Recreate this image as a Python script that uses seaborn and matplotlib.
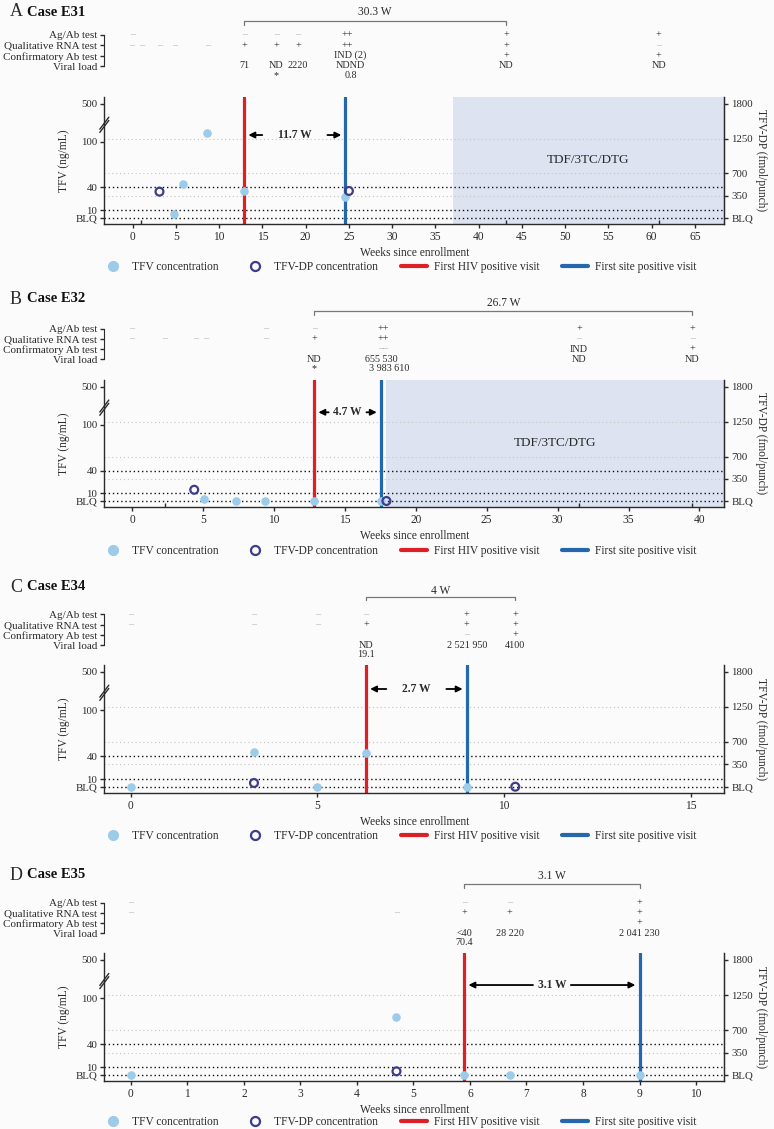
import numpy as np
import pandas as pd
import matplotlib
matplotlib.use("Agg")
import matplotlib.pyplot as plt
from matplotlib.lines import Line2D
import seaborn as sns

# ---------------- data ----------------
rows = ["Ag/Ab test", "Qualitative RNA test", "Confirmatory Ab test", "Viral load"]

# Case E31
a_tfv_week = [4.8, 5.8, 8.55, 12.9, 24.6]
a_tfv_conc = [5.3, 44.8, 197, 35.6, 26.9]
a_dp_week = [3.1, 25.0]
a_dp_conc = [412, 423]
a_agab = [(0, "–"), (12.9, "–"), (16.6, "–"), (19.1, "–"), (24.8, "++"), (43.2, "+"), (60.8, "+")]
a_rna = [(-0.1, "–"), (1.0, "–"), (3.1, "–"), (4.8, "–"), (8.7, "–"), (12.9, "+"), (16.6, "+"),
         (19.1, "+"), (24.8, "++"), (43.2, "+"), (60.8, "–")]
a_conf = [(25.2, "IND (2)"), (43.2, "+"), (60.8, "+")]
a_vl = [(12.9, "71"), (16.6, "ND"), (19.1, "2220"), (25.2, "NDND"), (43.2, "ND"), (60.8, "ND")]
a_vl2 = [(16.6, "*"), (25.2, "0.8")]
a_other_visits = [1.0, 43.2, 60.8]

# Case E32
b_tfv_week = [5.06, 7.35, 9.36, 12.84, 17.54]
b_tfv_conc = [2.2, 0, 0, 0, 0]
b_dp_week = [4.38, 17.93]
b_dp_conc = [177, 0]
b_agab = [(0, "–"), (9.4, "–"), (12.85, "–"), (17.7, "++"), (31.5, "+"), (39.5, "+")]
b_rna = [(0, "–"), (2.3, "–"), (4.45, "–"), (5.15, "–"), (9.4, "–"), (12.85, "+"), (17.7, "++"),
         (31.5, "–"), (39.5, "–")]
b_conf = [(17.7, "––"), (31.5, "IND"), (39.5, "+")]
b_vl = [(12.85, "ND"), (17.54, "655 530"), (31.5, "ND"), (39.5, "ND")]
b_vl2 = [(12.85, "*"), (18.1, "3 983 610")]
b_other_visits = [2.3, 31.5, 39.5]

# Case E34
c_tfv_week = [0, 3.3, 5.0, 6.3, 9.0]
c_tfv_conc = [0, 45.3, 0, 43.5, 0]
c_dp_week = [3.3, 10.3]
c_dp_conc = [58, 0]
c_agab = [(0, "–"), (3.3, "–"), (5.0, "–"), (6.3, "–"), (9.0, "+"), (10.3, "+")]
c_rna = [(0, "–"), (3.3, "–"), (5.0, "–"), (6.3, "+"), (9.0, "+"), (10.3, "+")]
c_conf = [(9.0, "–"), (10.3, "+")]
c_vl = [(6.3, "ND"), (9.0, "2 521 950"), (10.3, "4100")]
c_vl2 = [(6.3, "19.1")]
c_other_visits = []

# Case E35
d_tfv_week = [0, 4.7, 5.9, 6.7, 9.0]
d_tfv_conc = [0, 75.3, 0, 0, 0]
d_dp_week = [4.7]
d_dp_conc = [58]
d_agab = [(0, "–"), (5.9, "–"), (6.7, "–"), (9.0, "+")]
d_rna = [(0, "–"), (4.7, "–"), (5.9, "+"), (6.7, "+"), (9.0, "+")]
d_conf = [(9.0, "+")]
d_vl = [(5.9, "<40"), (6.7, "28 220"), (9.0, "2 041 230")]
d_vl2 = [(5.9, "70.4")]
d_other_visits = []

# first HIV positive visit, first site positive visit, bracket end, bracket label, ART start
a_events = dict(hiv=12.9, site=24.6, br_end=43.2, br_label="30.3 W", gap="11.7 W", art=37.0)
b_events = dict(hiv=12.84, site=17.54, br_end=39.5, br_label="26.7 W", gap="4.7 W", art=17.93)
c_events = dict(hiv=6.3, site=9.0, br_end=10.3, br_label="4 W", gap="2.7 W", art=None)
d_events = dict(hiv=5.9, site=9.0, br_end=9.0, br_label="3.1 W", gap="3.1 W", art=None)

# ---------------- style ----------------
sns.set_style("ticks")
plt.rcParams["font.family"] = ["Liberation Serif", "DejaVu Serif"]
plt.rcParams["font.size"] = 8

BG = "#fbfbfb"
INK = "#2b2b2b"
DASH = "#b0b0b0"
TFV_COL = "#9dcbea"
DP_COL = "#3e3d8c"
RED = "#dd1f26"
BLUE = "#2467ad"
SHADE = "#dde3f1"

W, H = 774, 1129
X0, X1 = 104.3, 724.3
DP_BOT, DP_TOP = -94, 1910

# TFV (ng/mL) axis is stretched so that it lines up with the TFV-DP axis
tfv_knots = [-1000, 0, 10, 40, 100, 500, 5000]
dp_knots = [-12000, 0, 120, 480, 1200, 1800, 8550]


def tfv_fwd(v):
    return np.interp(v, tfv_knots, dp_knots)


def tfv_inv(v):
    return np.interp(v, dp_knots, tfv_knots)


def px_rect(x0, y0, x1, y1):
    return [x0 / W, 1 - y1 / H, (x1 - x0) / W, (y1 - y0) / H]


panels = [
    dict(letter="A", case="Case E31", tfv=(a_tfv_week, a_tfv_conc), dp=(a_dp_week, a_dp_conc),
         table=[a_agab, a_rna, a_conf, a_vl], vl2=a_vl2, other=a_other_visits, ev=a_events,
         xlim=(-3.28, 68.4), xticks=range(0, 70, 5),
         title_y=12, ag_px=35, viral_px=66, blq_px=217.7, k=0.0632,
         br_y=4.36, br_ly=5.25, arrow_dp=1308, shrink=9, legend_y=266.7),
    dict(letter="B", case="Case E32", tfv=(b_tfv_week, b_tfv_conc), dp=(b_dp_week, b_dp_conc),
         table=[b_agab, b_rna, b_conf, b_vl], vl2=b_vl2, other=b_other_visits, ev=b_events,
         xlim=(-1.96, 41.75), xticks=range(0, 45, 5),
         title_y=299, ag_px=329, viral_px=359.3, blq_px=501, k=0.0635,
         br_y=4.78, br_ly=5.6, arrow_dp=1397, shrink=1, legend_y=551),
    dict(letter="C", case="Case E34", tfv=(c_tfv_week, c_tfv_conc), dp=(c_dp_week, c_dp_conc),
         table=[c_agab, c_rna, c_conf, c_vl], vl2=c_vl2, other=c_other_visits, ev=c_events,
         xlim=(-0.71, 15.9), xticks=[0, 5, 10, 15],
         title_y=587, ag_px=614.3, viral_px=645.3, blq_px=786.7, k=0.0639,
         br_y=4.7, br_ly=5.3, arrow_dp=1529, shrink=9, legend_y=836),
    dict(letter="D", case="Case E35", tfv=(d_tfv_week, d_tfv_conc), dp=(d_dp_week, d_dp_conc),
         table=[d_agab, d_rna, d_conf, d_vl], vl2=d_vl2, other=d_other_visits, ev=d_events,
         xlim=(-0.47, 10.5), xticks=range(0, 11),
         title_y=875, ag_px=902.7, viral_px=933.3, blq_px=1075, k=0.0639,
         br_y=4.8, br_ly=5.6, arrow_dp=1408, shrink=1, legend_y=1122),
]

fig = plt.figure(figsize=(W / 100, H / 100), dpi=100, facecolor=BG)

handles = [
    Line2D([], [], ls="", marker="o", ms=7, mfc=TFV_COL, mec=TFV_COL),
    Line2D([], [], ls="", marker="o", ms=6.5, mfc="none", mec=DP_COL, mew=1.6),
    Line2D([], [], color=RED, lw=3),
    Line2D([], [], color=BLUE, lw=3),
]
labels = ["TFV concentration", "TFV-DP concentration", "First HIV positive visit", "First site positive visit"]

for p in panels:
    ev = p["ev"]
    k = p["k"]
    top = p["blq_px"] - DP_TOP * k
    bot = p["blq_px"] - DP_BOT * k

    # ---- title ----
    fig.text(10 / W, 1 - p["title_y"] / H, p["letter"], fontsize=13, va="center", ha="left", color=INK)
    fig.text(27 / W, 1 - p["title_y"] / H, p["case"], fontsize=10.5, fontweight="bold",
             va="center", ha="left", color="#111111")

    # ---- test table ----
    s = (p["viral_px"] - p["ag_px"]) / 3
    tax = fig.add_axes(px_rect(X0, p["ag_px"] - 3.2 * s, X1, p["viral_px"] + 1.5 * s))
    tax.set_facecolor("none")
    tax.set_xlim(p["xlim"])
    tax.set_ylim(-1.5, 6.2)
    for yrow, entries in zip([3, 2, 1, 0], p["table"]):
        for wk, lab in entries:
            tax.text(wk, yrow, lab, ha="center", va="center", fontsize=7.3,
                     color=DASH if lab.startswith("–") else INK)
    for wk, lab in p["vl2"]:
        tax.text(wk, -0.9, lab, ha="center", va="center", fontsize=7.3, color=INK)
    b0, b1 = ev["hiv"], ev["br_end"]
    tax.plot([b0, b0, b1, b1], [p["br_y"] - 0.35, p["br_y"], p["br_y"], p["br_y"] - 0.35],
             color="#777777", lw=0.9, clip_on=False)
    tax.text((b0 + b1) / 2, p["br_ly"], ev["br_label"], ha="center", va="center", fontsize=8.3, color=INK)
    tax.set_yticks([3, 2, 1, 0], rows)
    tax.set_xticks([])
    tax.tick_params(axis="y", length=3, width=1, pad=2, labelsize=8, colors=INK)
    for side in ["top", "right", "bottom"]:
        tax.spines[side].set_visible(False)
    tax.spines["left"].set_bounds(0, 3)
    tax.spines["left"].set_color(INK)

    # ---- concentration plot ----
    ax = fig.add_axes(px_rect(X0, top, X1, bot))
    ax.set_facecolor("none")
    ax.set_yscale("function", functions=(tfv_fwd, tfv_inv))
    ax.set_ylim(tfv_inv(DP_BOT), tfv_inv(DP_TOP))
    ax.set_xlim(p["xlim"])

    if ev["art"] is not None:
        ax.axvspan(ev["art"], p["xlim"][1], color=SHADE, lw=0, zorder=0)

    for v in [350, 700, 1250]:
        ax.axhline(tfv_inv(v), color="#c4c4c4", lw=0.8, ls=(0, (1, 2.5)), zorder=1)
    for v in [0, 10, 40]:
        ax.axhline(v, color="#111111", lw=1.0, ls=(0, (1, 2)), zorder=1)

    ax.axvline(ev["hiv"], color=RED, lw=2.3, zorder=2)
    ax.axvline(ev["site"], color=BLUE, lw=2.3, zorder=2)

    tfv_df = pd.DataFrame({"week": p["tfv"][0], "conc": p["tfv"][1]})
    sns.scatterplot(data=tfv_df, x="week", y="conc", ax=ax, color=TFV_COL, s=38,
                    edgecolor=TFV_COL, linewidth=0, zorder=3, legend=False)

    ax.set_xticks(list(p["xticks"]))
    ax.set_xticks(p["other"], minor=True)
    ax.tick_params(axis="x", which="minor", direction="in", length=3, width=1, color=INK)
    ax.set_yticks([0, 10, 40, 100, 500], ["BLQ", "10", "40", "100", "500"])
    ax.tick_params(axis="both", which="major", length=3, width=1, pad=2, labelsize=8.3, colors=INK)
    ax.tick_params(axis="y", labelsize=7.8)
    ax.set_xlabel("Weeks since enrollment", fontsize=8.3, color=INK, labelpad=3)
    ax.set_ylabel("TFV (ng/mL)", fontsize=8.3, color=INK, labelpad=4)
    ax.spines["top"].set_visible(False)
    for side in ["left", "bottom", "right"]:
        ax.spines[side].set_color(INK)
        ax.spines[side].set_linewidth(1)

    # axis break marks on the left spine
    yb = (1470 - DP_BOT) / (DP_TOP - DP_BOT)
    dx, dy = 4.5 / (X1 - X0), 6 / (bot - top)
    for off in [-1.6 / (bot - top), 1.6 / (bot - top)]:
        ax.plot([-dx, dx], [yb - dy + off, yb + dy + off], transform=ax.transAxes,
                color=INK, lw=1, clip_on=False, zorder=5)

    # ---- TFV-DP on the right axis ----
    ax2 = ax.twinx()
    ax2.set_ylim(DP_BOT, DP_TOP)
    dp_df = pd.DataFrame({"week": p["dp"][0], "conc": p["dp"][1]})
    sns.scatterplot(data=dp_df, x="week", y="conc", ax=ax2, s=32, color=DP_COL, legend=False, zorder=4)
    coll = ax2.collections[-1]
    coll.set_facecolor("none")
    coll.set_edgecolor(DP_COL)
    coll.set_linewidth(1.6)
    ax2.set_yticks([0, 350, 700, 1250, 1800], ["BLQ", "350", "700", "1250", "1800"])
    ax2.tick_params(axis="y", length=3, width=1, pad=2, labelsize=7.8, colors=INK)
    ax2.set_ylabel("TFV-DP (fmol/punch)", rotation=270, fontsize=8.3, color=INK, labelpad=10)
    ax2.set_xlabel("")
    for side in ["top", "left", "bottom"]:
        ax2.spines[side].set_visible(False)
    ax2.spines["right"].set_color(INK)

    if ev["art"] is not None:
        ax2.text((ev["art"] + p["xlim"][1]) / 2, 920, "TDF/3TC/DTG", ha="center", va="center",
                 fontsize=9.5, color=INK)

    # interval arrows between the two visits
    mid = (ev["hiv"] + ev["site"]) / 2
    for target, alpha in [(ev["hiv"], 1), (ev["site"], 0)]:
        ax2.annotate(ev["gap"], xy=(target, p["arrow_dp"]), xytext=(mid, p["arrow_dp"]),
                     ha="center", va="center", fontsize=8.3, fontweight="bold", color=INK, alpha=alpha,
                     arrowprops=dict(arrowstyle="-|>", color="black", lw=1.3, mutation_scale=9,
                                     shrinkA=p["shrink"], shrinkB=3))

    fig.legend(handles, labels, loc="center", bbox_to_anchor=(398 / W, 1 - p["legend_y"] / H),
               ncol=4, frameon=False, fontsize=8.3, handlelength=2.2, columnspacing=2.0,
               handletextpad=0.6, labelcolor=INK)

fig.savefig("out.png", dpi=100, facecolor=BG)
